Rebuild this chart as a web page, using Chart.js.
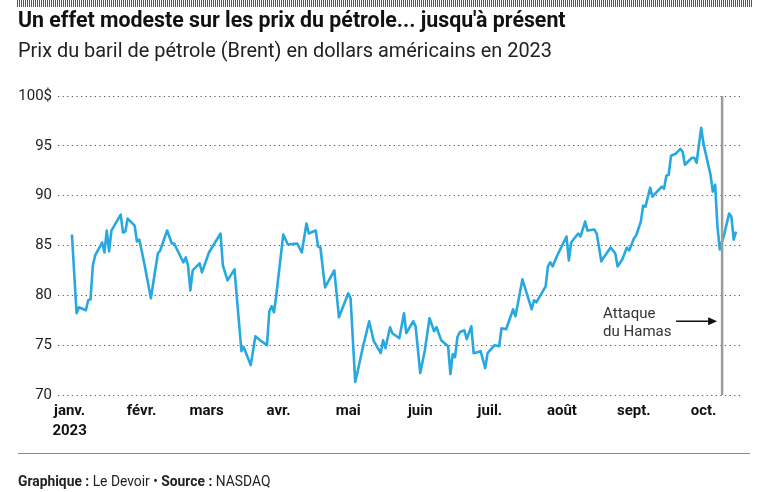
<!DOCTYPE html>
<html lang="fr">
<head>
<meta charset="utf-8">
<script src="https://cdn.jsdelivr.net/npm/chart.js@4.4.0/dist/chart.umd.min.js"></script>
<style>
  body { margin: 0; background: #fff; }
  #wrap { position: relative; width: 768px; height: 492px; overflow: hidden; }
  #chart { position: absolute; left: 0; top: 0; }
  #stripe { position: absolute; left: 17px; top: 0; z-index: 3; }
  .narrow { font-family: "Roboto", "Liberation Sans", sans-serif; color: #111; position: absolute; left: 18px;
    white-space: nowrap; transform-origin: 0 0; z-index: 2; }
  #title { top: 7px; font-size: 22px; font-weight: bold; }
  #subtitle { top: 39px; font-size: 19.5px; color: #222; }
  #rule { position: absolute; left: 18px; top: 453px; width: 732px; height: 1px; background: #8c8c8c; }
  #footer { top: 473px; font-size: 14px; color: #222; }
</style>
</head>
<body>
<div id="wrap">
  <canvas id="chart" width="768" height="492"></canvas>
  <canvas id="stripe" width="735" height="7"></canvas>
  <div id="title" class="narrow">Un effet modeste sur les prix du pétrole... jusqu'à présent</div>
  <div id="subtitle" class="narrow">Prix du baril de pétrole (Brent) en dollars américains en 2023</div>
  <div id="rule"></div>
  <div id="footer" class="narrow"><b>Graphique :</b> Le Devoir • <b>Source :</b> NASDAQ</div>
</div>
<script>
// Brent, dates (mois-jour, 2023) et prix
const dates = [
  '01-02','01-04','01-05','01-08','01-09','01-10','01-11','01-12','01-15','01-16','01-17','01-18','01-19',
  '01-23','01-24','01-25','01-26','01-29','01-30','01-31','02-02','02-05','02-08','02-09','02-12','02-14',
  '02-15','02-19','02-20','02-21','02-22','02-23','02-26','02-27','03-02','03-07','03-08','03-10','03-13',
  '03-16','03-17','03-20','03-22','03-24','03-27','03-28','03-29','03-30','03-31','04-03','04-05','04-09',
  '04-11','04-13','04-14','04-17','04-18','04-19','04-21','04-25','04-27','05-01','05-02','05-04','05-05',
  '05-07','05-10','05-12','05-15','05-16','05-17','05-19','05-20','05-23','05-25','05-26','05-29','05-30',
  '06-01','06-03','06-05','06-07','06-08','06-10','06-13','06-14','06-15','06-16','06-17','06-18','06-20',
  '06-21','06-23','06-24','06-27','06-29','06-30','07-03','07-05','07-06','07-08','07-11','07-12','07-15',
  '07-19','07-20','07-21','07-25','07-26','07-27','07-28','07-30','08-03','08-04','08-05','08-08','08-09',
  '08-11','08-12','08-15','08-16','08-18','08-19','08-22','08-24','08-25','08-27','08-29','08-30','09-01',
  '09-02','09-04','09-05','09-06','09-08','09-09','09-13','09-14','09-15','09-16','09-17','09-19','09-21',
  '09-22','09-23','09-26','09-27','09-28','09-30','10-01','10-04','10-05','10-06','10-07','10-08','10-10',
  '10-12','10-13','10-14','10-15'
];
const prices = [
  86.1, 78.2, 78.8, 78.5, 79.5, 79.6, 83.0, 84.0, 85.3, 84.3, 86.5, 84.4, 86.5,
  88.1, 86.3, 86.4, 87.7, 87.0, 85.4, 85.6, 83.4, 79.7, 84.2, 84.5, 86.5, 85.2,
  85.2, 83.3, 83.8, 83.0, 80.5, 82.5, 83.2, 82.3, 84.3, 86.2, 83.0, 81.5, 82.6,
  74.4, 74.8, 73.0, 75.9, 75.5, 75.0, 78.4, 78.9, 78.3, 80.0, 86.1, 85.1, 85.2,
  84.3, 87.2, 86.2, 86.5, 84.9, 84.8, 80.8, 82.5, 77.8, 80.2, 79.7, 71.3, 72.3,
  74.5, 77.4, 75.4, 74.2, 75.5, 74.7, 76.8, 76.2, 75.7, 78.2, 76.2, 77.4, 76.9,
  72.2, 74.5, 77.7, 76.4, 76.8, 75.5, 74.9, 72.1, 74.1, 73.8, 75.8, 76.3, 76.5,
  75.6, 76.9, 74.2, 74.4, 72.7, 74.2, 75.0, 74.9, 76.7, 76.6, 78.6, 77.9, 81.6,
  78.6, 79.5, 79.3, 80.9, 82.9, 83.3, 82.9, 84.0, 85.9, 83.5, 85.3, 86.2, 85.9,
  87.4, 86.5, 86.6, 86.2, 83.4, 83.8, 84.8, 84.2, 82.9, 83.6, 84.8, 84.5, 85.7,
  86.0, 87.4, 89.0, 88.9, 90.8, 89.9, 90.9, 90.7, 92.0, 92.1, 94.0, 94.2, 94.7,
  94.4, 93.1, 93.8, 93.8, 93.3, 96.8, 95.2, 92.1, 90.4, 91.1, 86.9, 84.6, 86.2,
  88.2, 87.9, 85.6, 86.4
];
const monthStarts = ['01-01','02-01','03-01','04-01','05-01','06-01','07-01','08-01','09-01','10-01'];
const monthLabels = ['janv.','févr.','mars','avr.','mai','juin','juil.','août','sept.','oct.'];
const yTicks = [70, 75, 80, 85, 90, 95, 100];
const eventDate = '10-09';
const eventText = ['Attaque', 'du Hamas'];

// jour de l'année (0 = 1er janvier)
function dayOf(md) {
  const [m, d] = md.split('-').map(Number);
  return (Date.UTC(2023, m - 1, d) - Date.UTC(2023, 0, 1)) / 86400000;
}

// police étroite : on resserre le texte à sa largeur d'origine
function squeeze(id, width) {
  const el = document.getElementById(id);
  el.style.transform = 'scaleX(' + (width / el.offsetWidth) + ')';
}
squeeze('title', 548);
squeeze('subtitle', 534);
squeeze('footer', 252);

// bande hachurée en haut
const sc = document.getElementById('stripe').getContext('2d');
sc.fillStyle = '#555';
for (let x = 0; x < 735; x += 2) sc.fillRect(x, 0, 1, 7);

const points = dates.map((d, i) => ({ x: dayOf(d), y: prices[i] }));
const tickDays = monthStarts.map(dayOf);

const fontChart = '"Roboto", "Liberation Sans", sans-serif';

// ligne verticale + note de l'attaque
const eventLine = {
  id: 'eventLine',
  afterDatasetsDraw(chart) {
    const { ctx, chartArea, scales } = chart;
    const x = scales.x.getPixelForValue(dayOf(eventDate));
    ctx.save();
    ctx.strokeStyle = '#9b9b9b';
    ctx.lineWidth = 2.5;
    ctx.beginPath();
    ctx.moveTo(x, scales.y.getPixelForValue(100));
    ctx.lineTo(x, chartArea.bottom);
    ctx.stroke();

    const yMid = scales.y.getPixelForValue(77.4);
    ctx.fillStyle = '#333';
    ctx.font = '15px ' + fontChart;
    ctx.textBaseline = 'alphabetic';
    ctx.fillText(eventText[0], x - 119, yMid - 3);
    ctx.fillText(eventText[1], x - 119, yMid + 15);

    ctx.strokeStyle = '#111';
    ctx.lineWidth = 1.3;
    ctx.beginPath();
    ctx.moveTo(x - 46, yMid);
    ctx.lineTo(x - 12, yMid);
    ctx.stroke();
    ctx.fillStyle = '#111';
    ctx.beginPath();
    ctx.moveTo(x - 5, yMid);
    ctx.lineTo(x - 14, yMid - 4);
    ctx.lineTo(x - 14, yMid + 4);
    ctx.closePath();
    ctx.fill();
    ctx.restore();
  }
};

new Chart(document.getElementById('chart'), {
  type: 'line',
  data: {
    datasets: [{
      data: points,
      borderColor: '#27a8e0',
      borderWidth: 2.6,
      pointRadius: 0,
      tension: 0,
      borderJoinStyle: 'round'
    }]
  },
  options: {
    responsive: false,
    animation: false,
    layout: { padding: { top: 96, right: 25, bottom: 0, left: 0 } },
    plugins: { legend: { display: false }, tooltip: { enabled: false } },
    scales: {
      x: {
        type: 'linear',
        min: -5,
        max: 290,
        grid: { display: false, drawTicks: false },
        border: { display: false },
        afterBuildTicks(scale) { scale.ticks = tickDays.map(v => ({ value: v })); },
        afterFit(scale) { scale.height = 97; },
        ticks: {
          autoSkip: false,
          maxRotation: 0,
          padding: 6,
          color: '#111',
          font: { family: fontChart, size: 15, weight: 'bold', lineHeight: 1.35 },
          callback(value, index) { return index === 0 ? [monthLabels[0], '2023'] : monthLabels[index]; }
        }
      },
      y: {
        min: 70,
        max: 100,
        afterBuildTicks(scale) { scale.ticks = yTicks.map(v => ({ value: v })); },
        afterFit(scale) { scale.width = 58; },
        border: { display: false, dash: [1.2, 3.4] },
        grid: { color: '#555', lineWidth: 1, drawTicks: false },
        ticks: {
          padding: 6,
          color: '#222',
          font: { family: fontChart, size: 15 },
          callback(value) { return value === 100 ? '100$' : value; }
        }
      }
    }
  },
  plugins: [eventLine]
});
</script>
</body>
</html>
